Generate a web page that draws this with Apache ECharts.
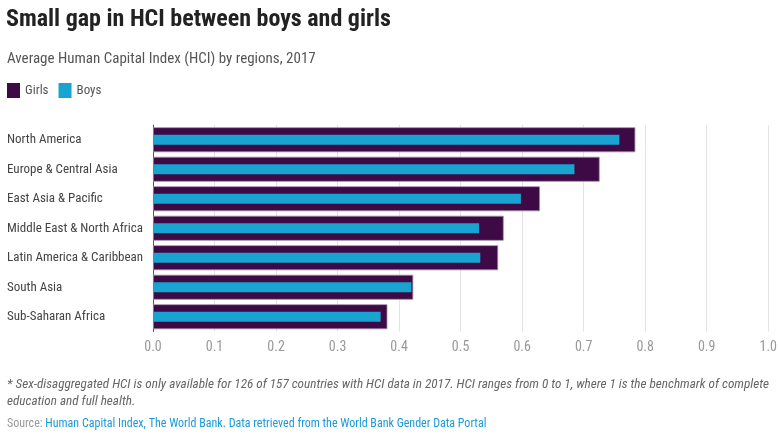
<!DOCTYPE html>
<html>
<head>
<meta charset="utf-8">
<script src="https://cdn.jsdelivr.net/npm/echarts@6/dist/echarts.min.js"></script>
<style>
html,body{margin:0;padding:0;background:#fff;}
#c{width:780px;height:439px;}
</style>
</head>
<body>
<div id="c"></div>
<script>
const categories = ["North America","Europe & Central Asia","East Asia & Pacific","Middle East & North Africa","Latin America & Caribbean","South Asia","Sub-Saharan Africa"];
const girls = [0.784,0.726,0.629,0.570,0.561,0.423,0.381];
const boys  = [0.758,0.685,0.598,0.530,0.532,0.420,0.370];
const xTicks = [0,0.1,0.2,0.3,0.4,0.5,0.6,0.7,0.8,0.9,1.0];

const FONT = '"Roboto Condensed","Liberation Sans Narrow","DejaVu Sans Condensed",Roboto,sans-serif';
const chart = echarts.init(document.getElementById('c'), null, {renderer:'canvas'});
chart.setOption({
  animation:false,
  backgroundColor:'#fff',
  textStyle:{fontFamily:FONT},
  title:[
    {text:'Small gap in HCI between boys and girls', left:6, top:8, padding:0,
     textStyle:{fontFamily:FONT, fontSize:24, fontWeight:'bold', color:'#222'}},
    {text:'Average Human Capital Index (HCI) by regions, 2017', left:7, top:52, padding:0,
     textStyle:{fontFamily:FONT, fontSize:15, fontWeight:'normal', color:'#555'}}
  ],
  legend:{
    left:7, top:83, padding:0, itemWidth:13, itemHeight:15, itemGap:10, icon:'rect',
    itemStyle:{borderWidth:0},
    textStyle:{fontFamily:FONT, fontSize:13, color:'#555'},
    data:['Girls','Boys']
  },
  grid:{left:153, right:9, top:125, height:206.5, containLabel:false},
  xAxis:{
    type:'value', min:0, max:1, interval:0.1,
    axisLine:{show:false}, axisTick:{show:false},
    axisLabel:{color:'#999', fontSize:14, fontFamily:FONT, margin:9,
      formatter:function(v){return v.toFixed(1);}},
    splitLine:{show:true, lineStyle:{color:'#e3e3e3', width:1}}
  },
  yAxis:[
    {type:'category', data:categories, inverse:true,
     axisLine:{show:true, lineStyle:{color:'#555', width:1}},
     axisTick:{show:false},
     axisLabel:{color:'#444', fontSize:13, fontFamily:FONT, align:'left', margin:146}},
    {type:'category', data:categories, inverse:true, show:false}
  ],
  series:[
    {name:'Girls', type:'bar', yAxisIndex:0, data:girls, barWidth:25,
     itemStyle:{color:'#3d0a45', borderColor:'#a58fac', borderWidth:0.8}},
    {name:'Boys', type:'bar', yAxisIndex:1, data:boys, barWidth:10,
     itemStyle:{color:'#19a3d0', borderWidth:0}}
  ],
  graphic:[
    {type:'text', left:7, top:376, style:{
      text:'* Sex-disaggregated HCI is only available for 126 of 157 countries with HCI data in 2017. HCI ranges from 0 to 1, where 1 is the benchmark of complete\neducation and full health.',
      font:'italic 13.2px '+FONT, fill:'#666', lineHeight:17}},
    {type:'text', left:7, top:418, style:{
      text:'{a|Source: }{b|Human Capital Index, The World Bank. Data retrieved from the World Bank Gender Data Portal}',
      rich:{a:{font:'12px '+FONT, fill:'#999'}, b:{font:'12px '+FONT, fill:'#1a9ad6'}}}}
  ]
});
</script>
</body>
</html>
